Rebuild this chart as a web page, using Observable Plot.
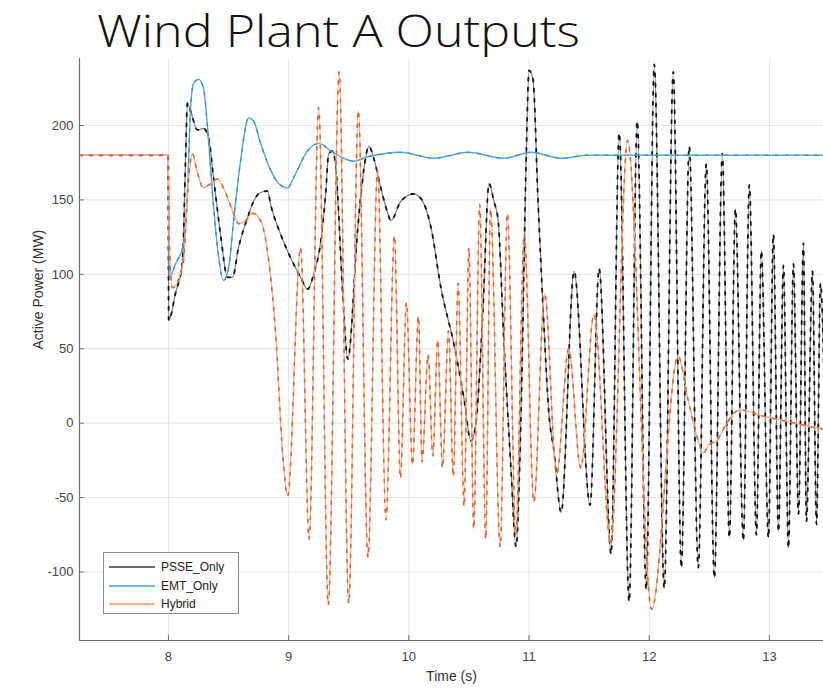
<!DOCTYPE html>
<html>
<head>
<meta charset="utf-8">
<script src="https://cdn.jsdelivr.net/npm/d3@7"></script>
<script src="https://cdn.jsdelivr.net/npm/@observablehq/plot@0.6"></script>
<style>
  body { margin: 0; background: #fff; }
  #wrap { position: relative; width: 823px; height: 689px; overflow: hidden; background: #fff; }
  #title { position: absolute; left: 0; top: 0; }
  #legend { position: absolute; left: 103px; top: 552px; width: 136px; height: 62px;
            border: 1px solid #8c8c8c; background: #fff; box-sizing: border-box;
            font-family: "Liberation Sans", Arial, sans-serif; font-size: 12px; color: #222; }
  #legend .row { position: absolute; left: 4px; height: 18px; display: flex; align-items: center; }
  #legend .row span { margin-left: 5px; }
</style>
</head>
<body>
<div id="wrap">
  <div id="chart"></div>
  <svg id="title" width="823" height="60"></svg>
  <div id="legend"></div>
</div>
<script>
// ---- chart text ----
const titleText = "Wind Plant A Outputs";
const xLabel = "Time (s)";
const yLabel = "Active Power (MW)";
const seriesNames = ["PSSE_Only", "EMT_Only", "Hybrid"];

// ---- axis ticks ----
const xTicks = [8, 9, 10, 11, 12, 13];
const yTicks = [-100, -50, 0, 50, 100, 150, 200];
const xDomain = [7.26, 13.45];
const yDomain = [-146, 245];

// ---- series: [time (s), active power (MW)] ----
const psseOnly = [
  [7.26,180],[7.998,180],[8.002,69],[8.058,87],[8.117,109],[8.142,176],[8.158,215],[8.183,210],
  [8.242,197],[8.292,198],[8.333,192],[8.375,165],[8.433,127],[8.492,98],[8.533,98],[8.583,118],
  [8.658,138],[8.708,149],[8.767,155],[8.825,156],[8.85,147],[8.933,127],[9.017,111],[9.1,98],
  [9.158,90],[9.208,100],[9.267,122],[9.308,154],[9.333,181],[9.367,183],[9.392,172],[9.45,87],
  [9.492,43],[9.575,131],[9.625,170],[9.667,186],[9.708,178],[9.767,158],[9.825,141],[9.85,136],
  [9.933,149],[10.04,154],[10.1,151],[10.183,132],[10.267,91],[10.375,53],[10.458,17],[10.517,-12],
  [10.558,0],[10.617,77],[10.667,161],[10.708,149],[10.742,137],[10.792,53],[10.85,-31],[10.892,-83],
  [10.933,5],[10.975,173],[11.0,237],[11.033,231],[11.075,149],[11.117,77],[11.167,5],[11.208,-19],
  [11.267,-60],[11.375,102],[11.508,-55],[11.583,104],[11.683,-88],[11.75,195],[11.833,-120],[11.9,203],
  [11.975,-112],[12.042,241],[12.125,-111],[12.2,236],[12.267,-97],[12.333,186],[12.408,-97],[12.475,174],
  [12.542,-104],[12.608,181],[12.667,-77],[12.717,144],[12.783,-79],[12.833,160],[12.892,-75],[12.933,116],
  [12.992,-77],[13.033,127],[13.075,-73],[13.117,106],[13.158,-84],[13.2,107],[13.242,-61],[13.283,121],
  [13.308,-66],[13.358,102],[13.392,-68],[13.425,94],[13.46,10]
];
const emtOnly = [
  [7.26,180],[7.998,180],[8.008,98],[8.058,107],[8.125,120],[8.158,154],[8.183,210],[8.208,228],
  [8.25,231],[8.292,225],[8.325,199],[8.367,154],[8.408,118],[8.458,96],[8.5,104],[8.542,136],
  [8.6,176],[8.667,205],[8.708,203],[8.767,188],[8.85,170],[8.917,161],[8.992,158],[9.042,165],
  [9.158,183],[9.25,188],[9.35,183],[9.458,178],[9.542,176],[9.658,179],[9.792,181],[9.933,182],
  [10.208,178],[10.492,182],[10.792,178],[11.017,182],[11.267,178],[11.49,180],[13.46,180]
];
const hybrid = [
  [7.26,180],[7.998,180],[8.008,120],[8.033,91],[8.125,109],[8.158,154],[8.2,181],[8.242,168],
  [8.292,158],[8.35,161],[8.408,164],[8.458,158],[8.542,141],[8.583,134],[8.642,136],[8.7,141],
  [8.767,136],[8.833,110],[8.892,60],[8.95,-20],[8.992,-49],[9.1,118],[9.17,-78],[9.25,212],
  [9.33,-122],[9.42,236],[9.5,-121],[9.58,210],[9.66,-90],[9.74,170],[9.81,-65],[9.88,126],
  [9.93,-37],[9.98,81],[10.03,-28],[10.08,72],[10.11,-26],[10.16,46],[10.2,-22],[10.24,56],
  [10.28,-30],[10.33,62],[10.37,-36],[10.41,94],[10.46,-56],[10.5,118],[10.54,-71],[10.59,147],
  [10.64,-78],[10.68,144],[10.76,-83],[10.82,141],[10.89,-75],[10.96,127],[11.04,-53],[11.13,87],
  [11.23,-34],[11.33,50],[11.43,-30],[11.54,73],[11.68,-81],[11.82,190],[12.02,-125],[12.24,45],
  [12.325,15],[12.408,-12],[12.45,-20],[12.5,-14],[12.558,-12],[12.625,-3],[12.708,7],[12.767,9],
  [12.825,8],[12.933,5],[13.042,3],[13.158,1],[13.267,-1],[13.375,-3],[13.46,-4]
];

// ---- styling ----
const seriesData = [psseOnly, emtOnly, hybrid];
const baseColors = ["#7c7c7c", "#5ba7d6", "#f3ad88"];
const dashColors = ["#151515", "#3f8dc3", "#d8683a"];
const baseWidths = [1.2, 1.4, 1.3];
const dashWidths = [1.8, 1.3, 1.6];
const legendColors = ["#3a3a3a", "#4f9fd2", "#ee9a6c"];

const lineMarks = [];
seriesData.forEach((d, i) => {
  lineMarks.push(Plot.line(d, {x: d => d[0], y: d => d[1], curve: "monotone-x",
    stroke: baseColors[i], strokeWidth: baseWidths[i], clip: true}));
  lineMarks.push(Plot.line(d, {x: d => d[0], y: d => d[1], curve: "monotone-x",
    stroke: dashColors[i], strokeWidth: dashWidths[i], strokeDasharray: "3 7", clip: true}));
});

const chart = Plot.plot({
  width: 823,
  height: 689,
  marginLeft: 79,
  marginRight: 0,
  marginTop: 58,
  marginBottom: 49,
  x: {domain: xDomain, label: null},
  y: {domain: yDomain, label: null},
  style: {fontFamily: "'Liberation Sans', Arial, sans-serif", fontSize: "13px", color: "#444", background: "transparent"},
  marks: [
    Plot.gridX(xTicks, {stroke: "#e4e4e4", strokeOpacity: 1}),
    Plot.gridY(yTicks, {stroke: "#e4e4e4", strokeOpacity: 1}),
    ...lineMarks,
    Plot.ruleX([xDomain[0]], {stroke: "#6e6e6e", strokeWidth: 1.2}),
    Plot.ruleY([yDomain[0]], {stroke: "#6e6e6e", strokeWidth: 1.2}),
    Plot.axisX(xTicks, {tickSize: -5, tickPadding: 16, stroke: "#6e6e6e", fill: "#444", label: null, tickFormat: d => String(d)}),
    Plot.axisY(yTicks, {tickSize: -5, tickPadding: 11, stroke: "#6e6e6e", fill: "#444", label: null, tickFormat: d => String(d)}),
    Plot.text([xLabel], {frameAnchor: "bottom", dy: 40, fill: "#333", fontSize: 14}),
    Plot.text([yLabel], {frameAnchor: "left", dx: -41, rotate: -90, fill: "#333", fontSize: 14})
  ]
});
document.getElementById("chart").appendChild(chart);

// ---- title ----
const tsvg = d3.select("#title");
tsvg.append("text")
  .attr("x", 97).attr("y", 47)
  .attr("font-family", "'Open Sans', 'DejaVu Sans', sans-serif")
  .attr("font-weight", 300)
  .attr("font-size", 44)
  .attr("fill", "#111")
  .attr("textLength", 483)
  .attr("lengthAdjust", "spacingAndGlyphs")
  .text(titleText);

// ---- legend ----
const legend = d3.select("#legend");
seriesNames.forEach((name, i) => {
  const row = legend.append("div").attr("class", "row").style("top", (5 + i * 18.5) + "px");
  const s = row.append("svg").attr("width", 48).attr("height", 10);
  s.append("line").attr("x1", 1).attr("x2", 47).attr("y1", 5).attr("y2", 5)
    .attr("stroke", legendColors[i]).attr("stroke-width", 1.6);
  row.append("span").text(name);
});
</script>
</body>
</html>
